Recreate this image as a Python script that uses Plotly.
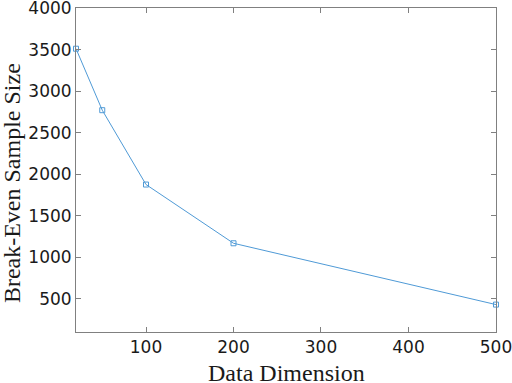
import plotly.graph_objects as go

dims = [20, 50, 100, 200, 500]
sample_sizes = [3510, 2770, 1875, 1168, 430]
x_ticks = [100, 200, 300, 400, 500]
y_ticks = [500, 1000, 1500, 2000, 2500, 3000, 3500, 4000]
x_title = "Data Dimension"
y_title = "Break-Even Sample Size"

fig = go.Figure()
fig.add_trace(go.Scatter(
    x=dims, y=sample_sizes, mode="lines+markers",
    line=dict(color="#4f9ad6", width=1),
    marker=dict(symbol="square-open", size=5, color="#4f9ad6", line=dict(width=1)),
    showlegend=False, cliponaxis=False,
))

axis_common = dict(
    showgrid=False, zeroline=False, showline=True, linecolor="#808080", linewidth=1,
    mirror="ticks", ticks="inside", ticklen=5, tickcolor="#808080", tickwidth=1,
    tickfont=dict(family="DejaVu Sans, Liberation Sans", size=17, color="#1a1a1a"),
    automargin=False, ticklabeloverflow="allow",
)
fig.update_xaxes(range=[20, 500.01], tickvals=x_ticks, **axis_common)
fig.update_yaxes(range=[100, 4000.1], tickvals=y_ticks, **axis_common)

title_font = dict(family="Liberation Serif, DejaVu Serif", size=24, color="#1a1a1a")
fig.add_annotation(text=x_title, xref="paper", yref="paper", x=0.5, y=-0.128,
                   xanchor="center", yanchor="middle", showarrow=False, font=title_font)
fig.add_annotation(text=y_title, xref="paper", yref="paper", x=-0.152, y=0.46,
                   xanchor="center", yanchor="middle", textangle=-90, showarrow=False, font=title_font)

fig.update_layout(
    width=512, height=383, margin=dict(l=76, r=16, t=8, b=51),
    plot_bgcolor="white", paper_bgcolor="white",
)
fig.write_html("out.html", post_script="document.body.style.margin='0px';",
               config={"displayModeBar": False})
